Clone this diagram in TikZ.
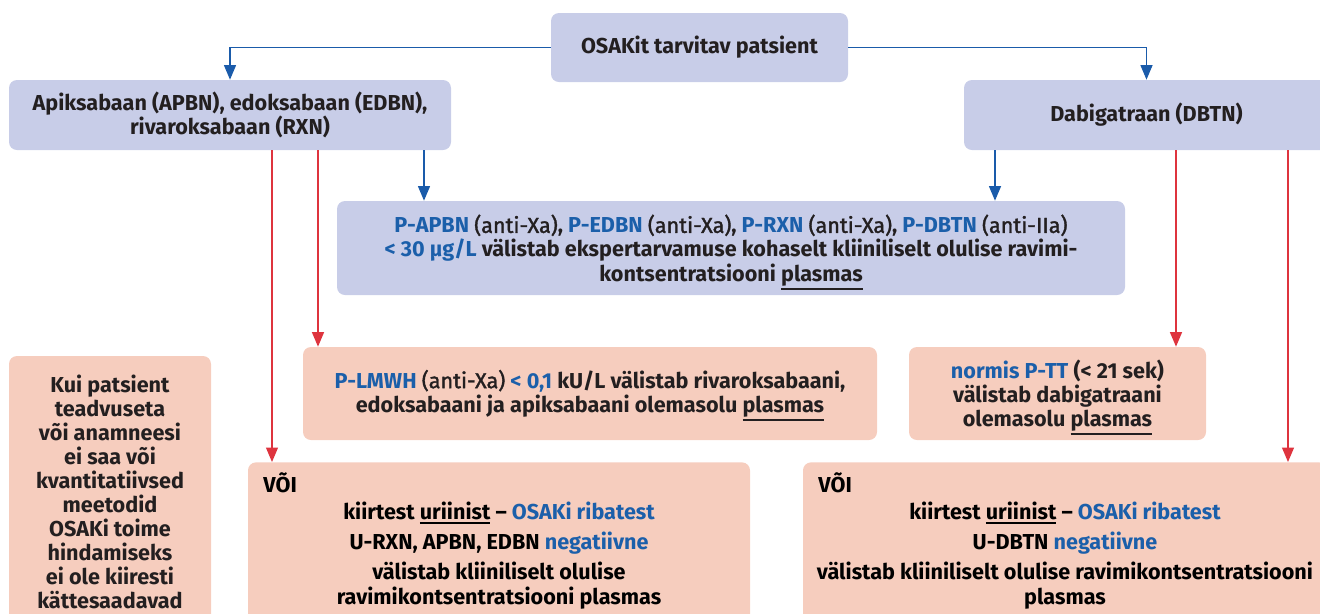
\documentclass[tikz,border=0pt]{standalone}
\usepackage{fontspec}
\setmainfont{Fira Sans}
\newfontface\medfont{Fira Sans}[FakeBold=1.6]
\usetikzlibrary{positioning,arrows.meta}
\definecolor{boxblue}{RGB}{200,205,232}
\definecolor{boxpink}{RGB}{246,205,190}
\definecolor{txtblue}{RGB}{27,95,170}
\definecolor{txtdark}{RGB}{35,31,32}
\definecolor{arrblue}{RGB}{26,91,170}
\definecolor{arrred}{RGB}{222,52,62}
\def\pxu{0.02cm}
\tikzstyle{blubox}=[fill=boxblue,rounded corners=8*\pxu,align=center,text=txtdark,inner sep=0pt]
\tikzstyle{pinkbox}=[fill=boxpink,rounded corners=8*\pxu,align=center,text=txtdark,inner sep=0pt]
\tikzstyle{bluarr}=[draw=arrblue,line width=0.6pt,-{Triangle[length=2.9mm,width=2.4mm]}]
\tikzstyle{redarr}=[draw=arrred,line width=0.7pt,-{Triangle[length=2.9mm,width=2.4mm]}]
\newcommand{\newBox}[4]{\node[#3](#1) at #4 {#2};}
\newcommand{\bl}[1]{\textcolor{txtblue}{#1}}
\newcommand{\md}[1]{{\medfont #1}}
\newcommand{\undl}[1]{\smash{\vtop{\hbox{#1}\kern1pt\hrule height 1.2pt}}}

\begin{document}
\begin{tikzpicture}[x=\pxu,y=-\pxu,
      font=\fontsize{12.3}{13.7}\selectfont\bfseries
      ]
      \useasboundingbox (0,0) rectangle (1320,613);
      % first row
      \newBox{top}{OSAKit tarvitav patsient}{blubox,minimum width=297*\pxu,minimum height=69*\pxu}{(699.5,47.5)}
      \newBox{apx}{\fontsize{12.3}{12.9}\selectfont Apiksabaan (APBN), edoksabaan (EDBN),\\ rivaroksabaan (RXN)}{blubox,minimum width=442*\pxu,minimum height=70*\pxu}{(230,115)}
      \newBox{dbtn}{Dabigatraan (DBTN)}{blubox,minimum width=365*\pxu,minimum height=70*\pxu}{(1146.5,115)}
      % anti-Xa box
      \newBox{mid}{\fontsize{12.3}{15}\selectfont \bl{P-APBN} \md{(anti-Xa)}, \bl{P-EDBN} \md{(anti-Xa)}, \bl{P-RXN} \md{(anti-Xa)}, \bl{P-DBTN} \md{(anti-IIa)}\\
        \bl{< 30 µg/L} välistab ekspertarvamuse kohaselt kliiniliselt olulise ravimi-\\
        kontsentratsiooni \undl{plasmas}}{blubox,minimum width=788*\pxu,minimum height=94*\pxu}{(731,248)}
      \newBox{lmwh}{\fontsize{12.3}{14.8}\selectfont \bl{P-LMWH} \md{(anti-Xa)} \bl{< 0,1} kU/L välistab rivaroksabaani,\\
        edoksabaani ja apiksabaani olemasolu \undl{plasmas}}{pinkbox,minimum width=574*\pxu,minimum height=93*\pxu}{(590,393.5)}
      \newBox{norm}{\bl{normis P-TT} (< 21 sek)\\ välistab dabigatraani\\ olemasolu \undl{plasmas}}{pinkbox,minimum width=297*\pxu,minimum height=93*\pxu}{(1057.5,393.5)}
      % lower row
      \newBox{kui}{\fontsize{12.3}{13.5}\selectfont Kui patsient\\ teadvuseta\\ või anamneesi\\ ei saa või\\ kvantitatiivsed\\ meetodid\\ OSAKi toime\\ hindamiseks\\ ei ole kiiresti\\ kättesaadavad}{pinkbox,minimum width=202*\pxu,minimum height=272*\pxu}{(110,492)}
      \newBox{voiL}{}{pinkbox,anchor=north,minimum width=502*\pxu,minimum height=178*\pxu}{(499,462)}
      \newBox{voiR}{}{pinkbox,anchor=north,minimum width=524*\pxu,minimum height=178*\pxu}{(1065,462)}
      \node[anchor=base west,inner sep=0pt] (voiLhd) at (263,492) {VÕI};
      \node[anchor=base west,inner sep=0pt] (voiRhd) at (818,492) {VÕI};
      \node[align=center,inner sep=0pt,anchor=north] (voiLtxt) at (499,502) {kiirtest \undl{uriinist} -- \bl{OSAKi ribatest}\\[3.4pt]
        U-RXN, APBN, EDBN \bl{negatiivne}\\[3.4pt]
        välistab kliiniliselt olulise\\ ravimikontsentratsiooni plasmas};
      \node[align=center,inner sep=0pt,anchor=north] (voiRtxt) at (1065,502) {kiirtest \undl{uriinist} -- \bl{OSAKi ribatest}\\[3.4pt]
        U-DBTN \bl{negatiivne}\\[3.4pt]
        välistab kliiniliselt olulise ravimikontsentratsiooni\\ plasmas};
      % columns of the arrows
      \coordinate (cA) at (272,0);
      \coordinate (cB) at (318,0);
      \coordinate (cC) at (424,0);
      \coordinate (cD) at (995,0);
      \coordinate (cE) at (1176,0);
      \coordinate (cF) at (1288,0);
      \draw[bluarr] (top.west) -| (apx.north);
      \draw[bluarr] (top.east) -| (dbtn.north);
      \draw[bluarr] (apx.south -| cC) -- (mid.north -| cC);
      \draw[bluarr] (dbtn.south -| cD) -- (mid.north -| cD);
      \draw[redarr] (apx.south -| cB) -- (lmwh.north -| cB);
      \draw[redarr] (apx.south -| cA) -- (voiL.north -| cA);
      \draw[redarr] (dbtn.south -| cE) -- (norm.north -| cE);
      \draw[redarr] (dbtn.south -| cF) -- (voiR.north -| cF);
    \end{tikzpicture}
\end{document}
